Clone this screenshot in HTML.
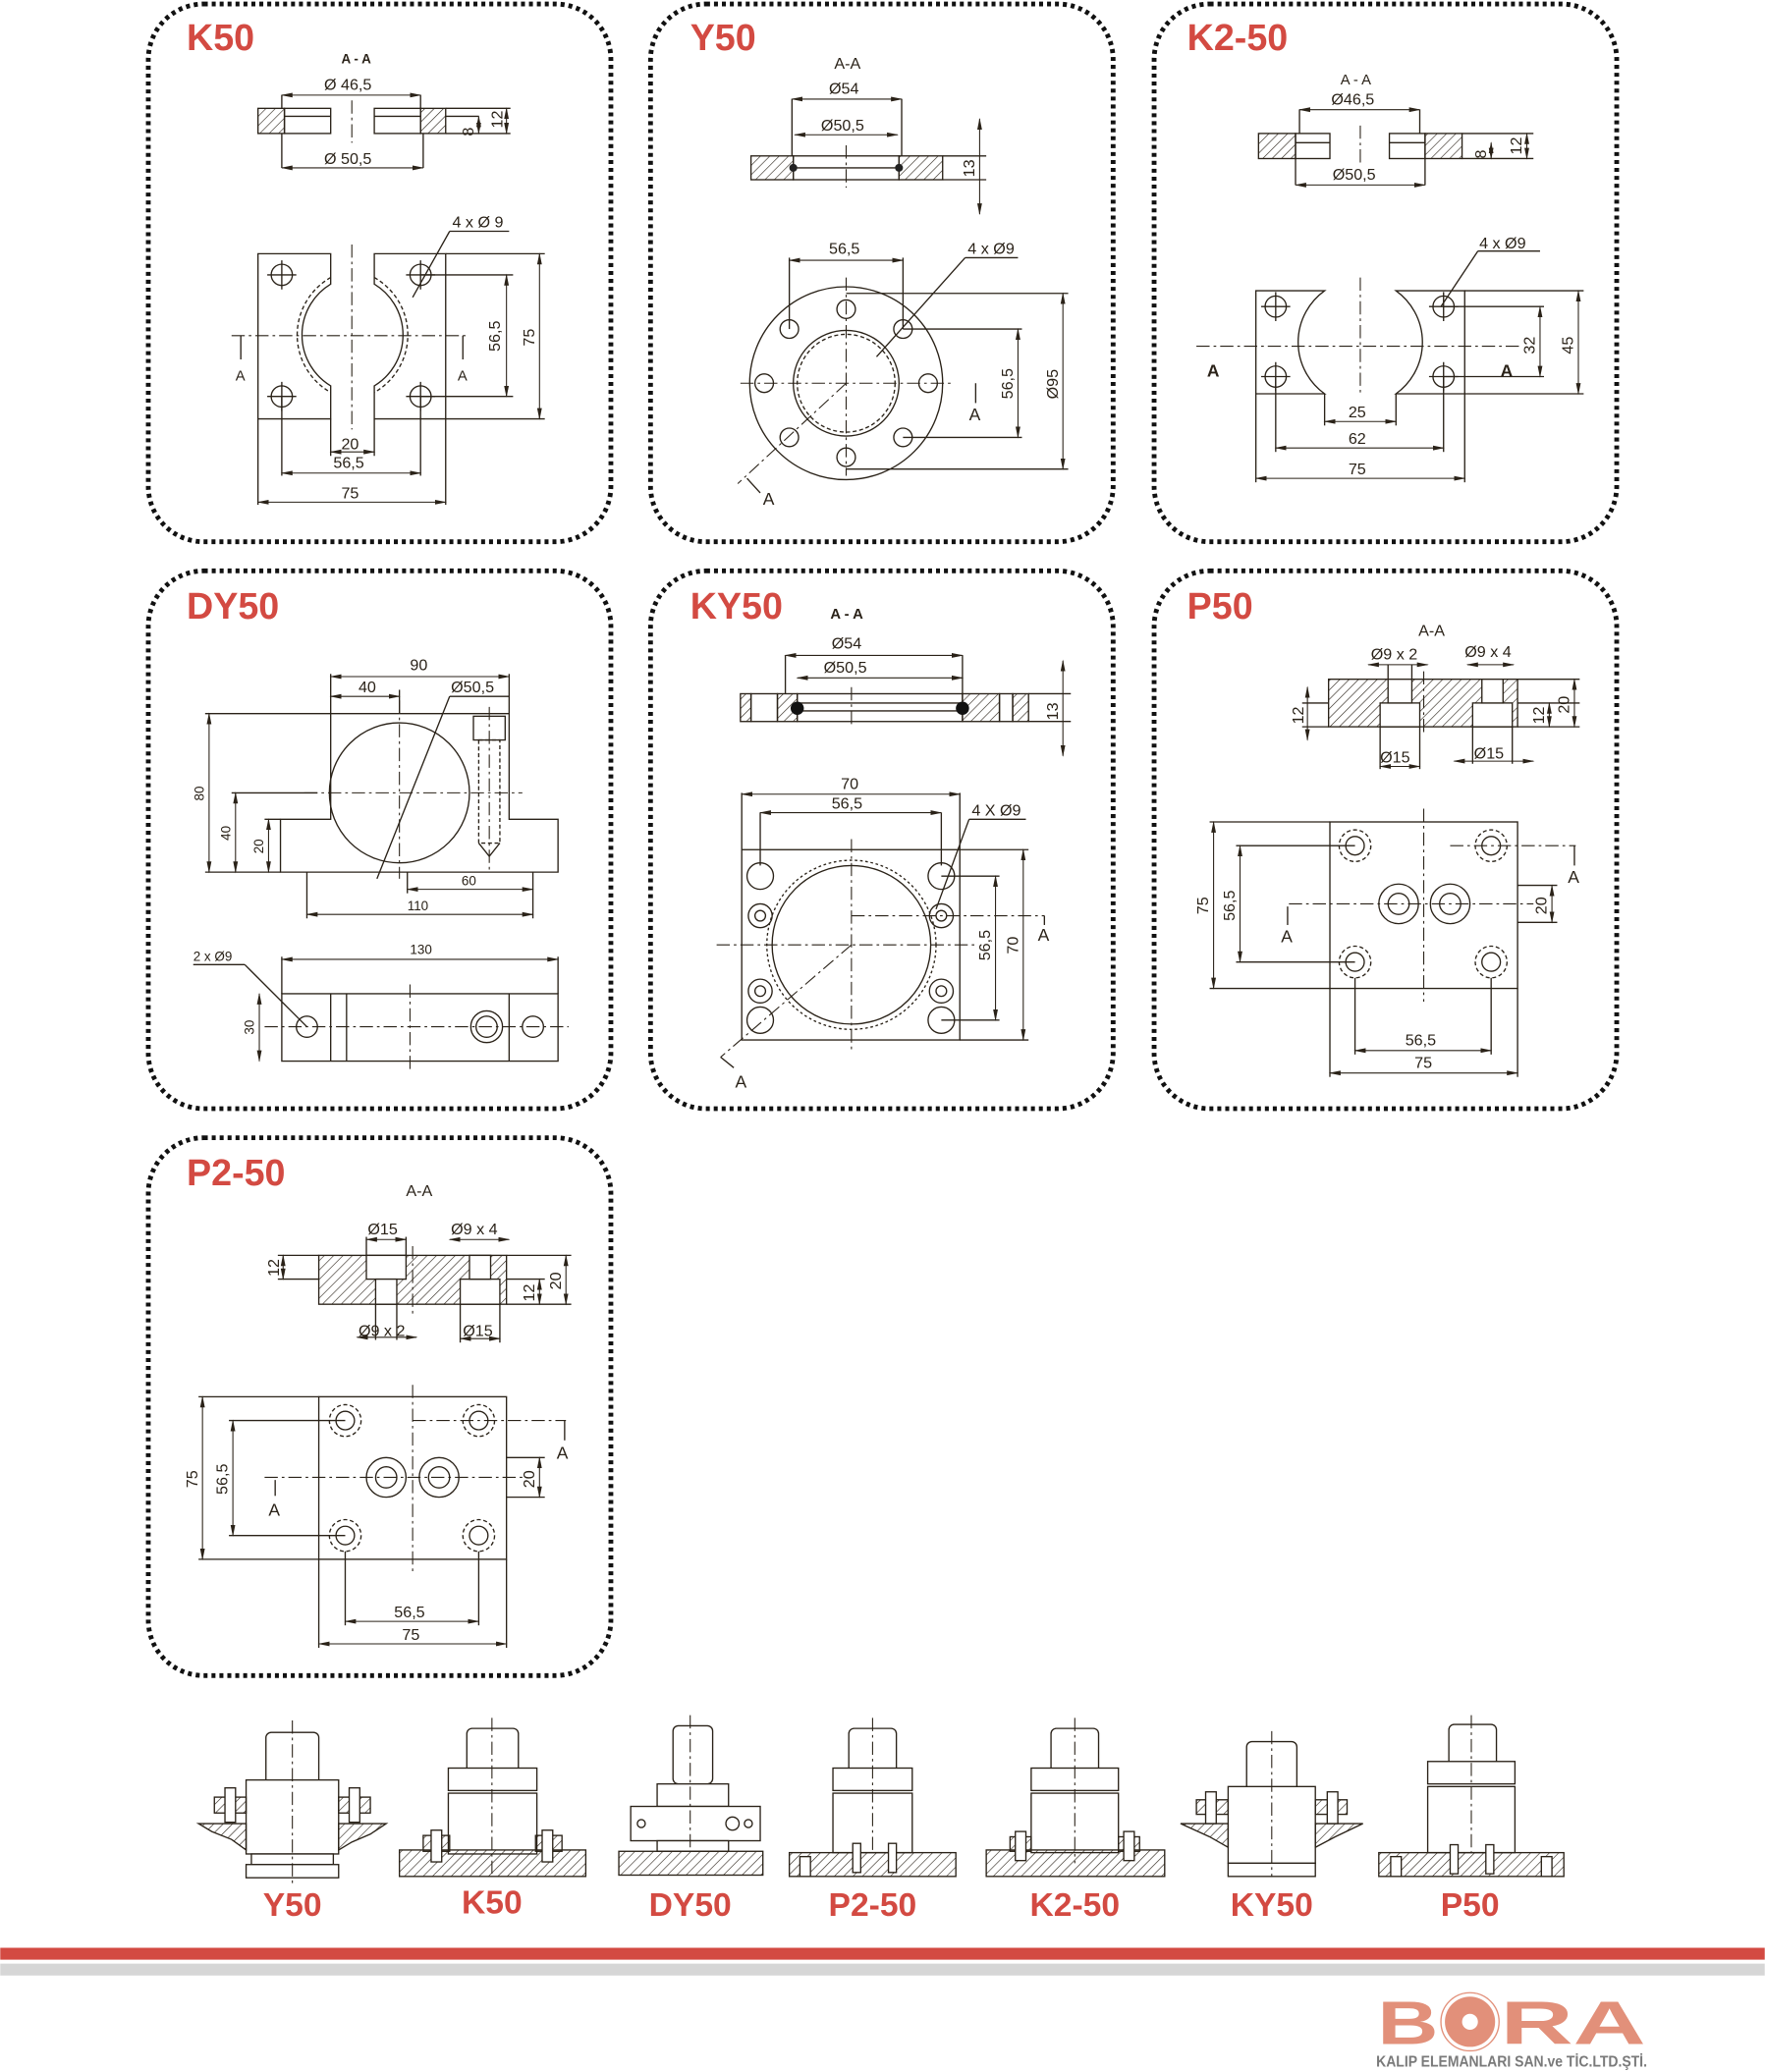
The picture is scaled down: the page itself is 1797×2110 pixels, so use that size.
<!DOCTYPE html>
<html><head><meta charset="utf-8"><style>
html,body{margin:0;padding:0;background:#fff}
svg{display:block}
text{font-family:"Liberation Sans",sans-serif;fill:#2a2218}
.t{fill:#d34a42;font-weight:bold;font-size:28px}
.lb{fill:#d34a42;font-weight:bold;font-size:25px}
.d{font-size:12px}
.l{stroke:#2a2218;stroke-width:1;fill:none}
.c{stroke:#2a2218;stroke-width:.8;fill:none;stroke-dasharray:10 3 2 3}
.h{stroke:#2a2218;stroke-width:1;fill:url(#hat)}
.p{fill:none;stroke:#111;stroke-width:3.6;stroke-dasharray:3 3}
.dm{stroke:#2a2218;stroke-width:.8;fill:none;marker-start:url(#a);marker-end:url(#a)}
.g{stroke:#2a2218;stroke-width:1;fill:#fff}
</style></head><body>
<svg width="1797" height="2110" viewBox="0 0 1335 1568" xmlns="http://www.w3.org/2000/svg">
<defs>
<pattern id="hat" width="5" height="5" patternUnits="userSpaceOnUse" patternTransform="rotate(45)"><line x1="0" y1="0" x2="0" y2="5" stroke="#2a2218" stroke-width="0.9"/></pattern>
<marker id="a" viewBox="0 0 10 10" refX="9" refY="5" markerWidth="9" markerHeight="9" markerUnits="userSpaceOnUse" orient="auto-start-reverse"><path d="M0,3 L10,5 L0,7z" fill="#2a2218"/></marker>
</defs>

<!-- panels -->
<rect class="p" x="112" y="3" width="350" height="407" rx="42"/>
<rect class="p" x="492" y="3" width="350" height="407" rx="42"/>
<rect class="p" x="873" y="3" width="350" height="407" rx="42"/>
<rect class="p" x="112" y="432" width="350" height="407" rx="42"/>
<rect class="p" x="492" y="432" width="350" height="407" rx="42"/>
<rect class="p" x="873" y="432" width="350" height="407" rx="42"/>
<rect class="p" x="112" y="861" width="350" height="407" rx="42"/>

<!-- K50 -->
<text class="t" x="141" y="38">K50</text>
<text x="258" y="48" style="font-size:10px;font-weight:bold">A - A</text>
<rect class="h" x="195" y="82" width="20" height="19"/><rect class="l" x="215" y="82" width="35" height="19"/><line class="l" x1="215" y1="88" x2="250" y2="88"/>
<rect class="h" x="318" y="82" width="19" height="19"/><rect class="l" x="283" y="82" width="35" height="19"/><line class="l" x1="283" y1="88" x2="318" y2="88"/>
<line class="c" x1="266" y1="76" x2="266" y2="108"/>
<line class="dm" x1="213" y1="72" x2="318" y2="72"/><line class="l" x1="213" y1="72" x2="213" y2="82"/><line class="l" x1="318" y1="72" x2="318" y2="82"/>
<text class="d" x="245" y="68">Ø 46,5</text>
<line class="dm" x1="213" y1="127" x2="320" y2="127"/><line class="l" x1="213" y1="101" x2="213" y2="127"/><line class="l" x1="320" y1="101" x2="320" y2="127"/>
<text class="d" x="245" y="124">Ø 50,5</text>
<line class="l" x1="337" y1="82" x2="386" y2="82"/><line class="l" x1="337" y1="101" x2="386" y2="101"/><line class="l" x1="337" y1="88" x2="362" y2="88"/>
<line class="dm" x1="362" y1="88" x2="362" y2="101"/><line class="dm" x1="383" y1="82" x2="383" y2="101"/>
<text class="d" transform="translate(358,103) rotate(-90)">8</text><text class="d" transform="translate(380,97) rotate(-90)">12</text>
<path class="l" d="M195,192 H250 V215 A45,45 0 0 0 250,292 V317 H195Z"/>
<path class="l" d="M337,192 H283 V215 A45,45 0 0 1 283,292 V317 H337Z"/>
<path class="l" stroke-dasharray="3 2" d="M250,210 A50,50 0 0 0 250,297 M283,210 A50,50 0 0 1 283,297"/>
<circle class="l" cx="213" cy="208" r="8"/><circle class="l" cx="318" cy="208" r="8"/><circle class="l" cx="213" cy="300" r="8"/><circle class="l" cx="318" cy="300" r="8"/>
<path class="l" stroke-width=".7" d="M202,208h22M213,197v22M307,208h22M318,197v22M202,300h22M213,289v22M307,300h22M318,289v22"/>
<line class="c" x1="175" y1="254" x2="355" y2="254"/><line class="c" x1="266" y1="185" x2="266" y2="325"/>
<line class="l" x1="182" y1="254" x2="182" y2="272"/><line class="l" x1="350" y1="254" x2="350" y2="272"/>
<text class="d" x="178" y="288" style="font-size:11px">A</text><text class="d" x="346" y="288" style="font-size:11px">A</text>
<line class="l" x1="318" y1="208" x2="388" y2="208"/><line class="l" x1="318" y1="300" x2="388" y2="300"/><line class="l" x1="337" y1="192" x2="412" y2="192"/><line class="l" x1="337" y1="317" x2="412" y2="317"/>
<line class="dm" x1="383" y1="208" x2="383" y2="300"/><line class="dm" x1="408" y1="192" x2="408" y2="317"/>
<text class="d" transform="translate(378,266) rotate(-90)">56,5</text><text class="d" transform="translate(404,262) rotate(-90)">75</text>
<line class="l" x1="340" y1="175" x2="385" y2="175"/><line class="l" x1="340" y1="175" x2="312" y2="225"/>
<text class="d" x="342" y="172">4 x Ø 9</text>
<line class="l" x1="250" y1="317" x2="250" y2="345"/><line class="l" x1="283" y1="317" x2="283" y2="345"/><line class="dm" x1="250" y1="342" x2="283" y2="342"/><text class="d" x="258" y="340">20</text>
<line class="l" x1="213" y1="300" x2="213" y2="360"/><line class="l" x1="318" y1="300" x2="318" y2="360"/><line class="dm" x1="213" y1="358" x2="318" y2="358"/><text class="d" x="252" y="354">56,5</text>
<line class="l" x1="195" y1="317" x2="195" y2="382"/><line class="l" x1="337" y1="317" x2="337" y2="382"/><line class="dm" x1="195" y1="380" x2="337" y2="380"/><text class="d" x="258" y="377">75</text>

<!-- Y50 -->
<text class="t" x="522" y="38">Y50</text>
<text class="d" x="631" y="52">A-A</text>
<rect class="h" x="568" y="118" width="32" height="18"/><rect class="h" x="680" y="118" width="33" height="18"/>
<rect class="l" x="600" y="118" width="80" height="18"/><line class="l" x1="600" y1="127" x2="680" y2="127"/>
<circle cx="600" cy="127" r="3" fill="#222"/><circle cx="680" cy="127" r="3" fill="#222"/>
<line class="c" x1="640" y1="110" x2="640" y2="142"/>
<line class="dm" x1="599" y1="75" x2="682" y2="75"/><line class="l" x1="599" y1="75" x2="599" y2="118"/><line class="l" x1="682" y1="75" x2="682" y2="118"/><text class="d" x="627" y="71">Ø54</text>
<line class="dm" x1="601" y1="102" x2="679" y2="102"/><text class="d" x="621" y="99">Ø50,5</text>
<line class="l" x1="713" y1="118" x2="746" y2="118"/><line class="l" x1="713" y1="136" x2="746" y2="136"/><line class="dm" x1="741" y1="90" x2="741" y2="162"/>
<text class="d" transform="translate(737,134) rotate(-90)">13</text>
<circle class="l" cx="640" cy="290" r="73"/><circle class="l" cx="640" cy="290" r="40"/><circle class="l" cx="640" cy="290" r="37" stroke-dasharray="3 2"/>
<g class="l"><circle cx="640" cy="234" r="7"/><circle cx="640" cy="346" r="7"/><circle cx="578" cy="290" r="7"/><circle cx="702" cy="290" r="7"/><circle cx="597" cy="249" r="7"/><circle cx="683" cy="249" r="7"/><circle cx="597" cy="331" r="7"/><circle cx="683" cy="331" r="7"/></g>
<line class="c" x1="560" y1="290" x2="720" y2="290"/><line class="c" x1="640" y1="210" x2="640" y2="360"/><line class="c" x1="640" y1="290" x2="558" y2="366"/>
<line class="l" x1="565" y1="362" x2="575" y2="373"/><text class="d" x="577" y="382" style="font-size:13px">A</text>
<line class="l" x1="738" y1="290" x2="738" y2="305"/><text class="d" x="733" y="318" style="font-size:13px">A</text>
<line class="l" x1="597" y1="195" x2="597" y2="249"/><line class="l" x1="683" y1="195" x2="683" y2="249"/><line class="dm" x1="597" y1="197" x2="683" y2="197"/><text class="d" x="627" y="192">56,5</text>
<line class="l" x1="730" y1="195" x2="770" y2="195"/><line class="l" x1="730" y1="195" x2="663" y2="270"/><text class="d" x="732" y="192">4 x Ø9</text>
<line class="l" x1="640" y1="222" x2="808" y2="222"/><line class="l" x1="683" y1="249" x2="773" y2="249"/><line class="l" x1="683" y1="331" x2="773" y2="331"/><line class="l" x1="640" y1="355" x2="808" y2="355"/>
<line class="dm" x1="770" y1="249" x2="770" y2="331"/><line class="dm" x1="804" y1="222" x2="804" y2="355"/>
<text class="d" transform="translate(766,302) rotate(-90)">56,5</text><text class="d" transform="translate(800,302) rotate(-90)">Ø95</text>

<!-- K2-50 -->
<text class="t" x="898" y="38">K2-50</text>
<text class="d" x="1014" y="64" style="font-size:11px">A - A</text>
<rect class="h" x="952" y="101" width="28" height="19"/><rect class="l" x="980" y="101" width="26" height="19"/><line class="l" x1="980" y1="108" x2="1006" y2="108"/>
<rect class="h" x="1078" y="101" width="28" height="19"/><rect class="l" x="1051" y="101" width="27" height="19"/><line class="l" x1="1051" y1="108" x2="1078" y2="108"/>
<line class="c" x1="1029" y1="95" x2="1029" y2="125"/>
<line class="dm" x1="983" y1="83" x2="1074" y2="83"/><line class="l" x1="983" y1="83" x2="983" y2="101"/><line class="l" x1="1074" y1="83" x2="1074" y2="101"/><text class="d" x="1007" y="79">Ø46,5</text>
<line class="dm" x1="980" y1="140" x2="1078" y2="140"/><line class="l" x1="980" y1="120" x2="980" y2="140"/><line class="l" x1="1078" y1="120" x2="1078" y2="140"/><text class="d" x="1008" y="136">Ø50,5</text>
<line class="l" x1="1106" y1="101" x2="1160" y2="101"/><line class="l" x1="1106" y1="120" x2="1160" y2="120"/>
<line class="dm" x1="1128" y1="108" x2="1128" y2="120"/><line class="dm" x1="1155" y1="101" x2="1155" y2="120"/>
<text class="d" transform="translate(1124,120) rotate(-90)">8</text><text class="d" transform="translate(1151,117) rotate(-90)">12</text>
<path class="l" d="M950,220 H1002 A48,48 0 0 0 1002,298 H950Z"/><path class="l" d="M1108,220 H1056 A48,48 0 0 1 1056,298 H1108Z"/>
<g class="l"><circle cx="965" cy="232" r="8"/><circle cx="1092" cy="232" r="8"/><circle cx="965" cy="285" r="8"/><circle cx="1092" cy="285" r="8"/></g>
<path class="l" stroke-width=".7" d="M954,232h22M965,221v22M1081,232h22M1092,221v22M954,285h22M965,274v22M1081,285h22M1092,274v22"/>
<line class="c" x1="1029" y1="210" x2="1029" y2="300"/><line class="c" x1="905" y1="262" x2="1150" y2="262"/>
<text x="913" y="285" style="font-size:13px;font-weight:bold">A</text><text x="1135" y="285" style="font-size:13px;font-weight:bold">A</text>
<line class="l" x1="1118" y1="190" x2="1165" y2="190"/><line class="l" x1="1118" y1="190" x2="1090" y2="232"/><text class="d" x="1119" y="188">4 x Ø9</text>
<line class="l" x1="1092" y1="232" x2="1168" y2="232"/><line class="l" x1="1092" y1="285" x2="1168" y2="285"/><line class="l" x1="1108" y1="220" x2="1198" y2="220"/><line class="l" x1="1108" y1="298" x2="1198" y2="298"/>
<line class="dm" x1="1165" y1="232" x2="1165" y2="285"/><line class="dm" x1="1194" y1="220" x2="1194" y2="298"/>
<text class="d" transform="translate(1161,268) rotate(-90)">32</text><text class="d" transform="translate(1190,268) rotate(-90)">45</text>
<line class="l" x1="1002" y1="298" x2="1002" y2="322"/><line class="l" x1="1056" y1="298" x2="1056" y2="322"/><line class="dm" x1="1002" y1="319" x2="1056" y2="319"/><text class="d" x="1020" y="316">25</text>
<line class="l" x1="965" y1="285" x2="965" y2="342"/><line class="l" x1="1092" y1="285" x2="1092" y2="342"/><line class="dm" x1="965" y1="339" x2="1092" y2="339"/><text class="d" x="1020" y="336">62</text>
<line class="l" x1="950" y1="298" x2="950" y2="365"/><line class="l" x1="1108" y1="298" x2="1108" y2="365"/><line class="dm" x1="950" y1="362" x2="1108" y2="362"/><text class="d" x="1020" y="359">75</text>

<!-- DY50 -->
<text class="t" x="141" y="468">DY50</text>
<path class="l" d="M250,540 H385 V620 H422 V660 H212 V620 H250Z"/>
<circle class="l" cx="302" cy="600" r="53"/>
<rect class="l" x="358" y="542" width="24" height="18"/><rect class="l" x="362" y="560" width="16" height="78" stroke-dasharray="3 2"/>
<path class="l" d="M362,638 L370,648 L378,638"/>
<line class="c" x1="230" y1="600" x2="395" y2="600"/><line class="c" x1="302" y1="530" x2="302" y2="665"/><line class="c" x1="370" y1="535" x2="370" y2="660"/>
<line class="l" x1="250" y1="510" x2="250" y2="540"/><line class="l" x1="385" y1="510" x2="385" y2="540"/><line class="dm" x1="250" y1="512" x2="385" y2="512"/><text class="d" x="310" y="507">90</text>
<line class="l" x1="302" y1="522" x2="302" y2="540"/><line class="dm" x1="250" y1="527" x2="302" y2="527"/><text class="d" x="271" y="524">40</text>
<line class="l" x1="285" y1="665" x2="340" y2="527"/><line class="l" x1="340" y1="527" x2="385" y2="527"/><text class="d" x="341" y="524">Ø50,5</text>
<line class="l" x1="155" y1="540" x2="250" y2="540"/><line class="l" x1="155" y1="660" x2="212" y2="660"/><line class="l" x1="175" y1="600" x2="240" y2="600"/><line class="l" x1="200" y1="620" x2="212" y2="620"/>
<line class="dm" x1="158" y1="540" x2="158" y2="660"/><line class="dm" x1="178" y1="600" x2="178" y2="660"/><line class="dm" x1="203" y1="620" x2="203" y2="660"/>
<text class="d" transform="translate(154,606) rotate(-90)" style="font-size:10px">80</text><text class="d" transform="translate(174,636) rotate(-90)" style="font-size:10px">40</text><text class="d" transform="translate(199,646) rotate(-90)" style="font-size:10px">20</text>
<line class="l" x1="308" y1="660" x2="308" y2="676"/><line class="l" x1="403" y1="660" x2="403" y2="695"/><line class="dm" x1="308" y1="673" x2="403" y2="673"/><text class="d" x="349" y="670" style="font-size:10px">60</text>
<line class="l" x1="232" y1="660" x2="232" y2="695"/><line class="dm" x1="232" y1="692" x2="403" y2="692"/><text class="d" x="308" y="689" style="font-size:10px">110</text>
<rect class="l" x="213" y="752" width="209" height="51"/>
<line class="l" x1="250" y1="752" x2="250" y2="803"/><line class="l" x1="262" y1="752" x2="262" y2="803"/><line class="l" x1="385" y1="752" x2="385" y2="803"/>
<circle class="l" cx="232" cy="777" r="8"/><circle class="l" cx="403" cy="777" r="8"/><circle class="l" cx="368" cy="777" r="12"/><circle class="l" cx="368" cy="777" r="8"/>
<line class="c" x1="200" y1="777" x2="430" y2="777"/><line class="c" x1="310" y1="745" x2="310" y2="810"/>
<line class="l" x1="213" y1="724" x2="213" y2="752"/><line class="l" x1="422" y1="724" x2="422" y2="752"/><line class="dm" x1="213" y1="726" x2="422" y2="726"/><text class="d" x="310" y="722" style="font-size:10px">130</text>
<line class="dm" x1="196" y1="752" x2="196" y2="803"/><text class="d" transform="translate(192,783) rotate(-90)" style="font-size:10px">30</text>
<line class="l" x1="146" y1="730" x2="185" y2="730"/><line class="l" x1="185" y1="730" x2="232" y2="777"/><text class="d" x="146" y="727" style="font-size:10px">2 x Ø9</text>

<!-- KY50 -->
<text class="t" x="522" y="468">KY50</text>
<text x="628" y="468" style="font-size:11px;font-weight:bold">A - A</text>
<rect class="h" x="560" y="525" width="8" height="21"/><rect class="l" x="568" y="525" width="20" height="21"/>
<rect class="h" x="588" y="525" width="15" height="21"/><rect class="l" x="603" y="525" width="125" height="21"/>
<rect class="h" x="728" y="525" width="28" height="21"/><rect class="l" x="756" y="525" width="10" height="21"/><rect class="h" x="766" y="525" width="12" height="21"/>
<line class="l" x1="603" y1="532" x2="728" y2="532"/><line class="l" x1="603" y1="538" x2="728" y2="538"/>
<circle cx="603" cy="536" r="5" fill="#111"/><circle cx="728" cy="536" r="5" fill="#111"/>
<line class="c" x1="644" y1="520" x2="644" y2="551"/>
<line class="dm" x1="594" y1="496" x2="728" y2="496"/>
<line class="l" x1="594" y1="496" x2="594" y2="525"/><line class="l" x1="728" y1="496" x2="728" y2="525"/>
<text class="d" x="629" y="491">Ø54</text>
<line class="dm" x1="603" y1="513" x2="728" y2="513"/><text class="d" x="623" y="509">Ø50,5</text>
<line class="l" x1="778" y1="525" x2="810" y2="525"/><line class="l" x1="778" y1="546" x2="810" y2="546"/><line class="dm" x1="804" y1="500" x2="804" y2="572"/>
<text class="d" transform="translate(800,545) rotate(-90)">13</text>
<rect class="l" x="561" y="643" width="165" height="144"/>
<circle class="l" cx="644" cy="715" r="60"/><circle class="l" cx="644" cy="715" r="64" stroke-dasharray="2 2"/>
<g class="l"><circle cx="575" cy="663" r="10"/><circle cx="712" cy="663" r="10"/><circle cx="575" cy="772" r="10"/><circle cx="712" cy="772" r="10"/>
<circle cx="575" cy="693" r="9"/><circle cx="575" cy="693" r="4"/><circle cx="712" cy="693" r="9"/><circle cx="712" cy="693" r="4"/>
<circle cx="575" cy="750" r="9"/><circle cx="575" cy="750" r="4"/><circle cx="712" cy="750" r="9"/><circle cx="712" cy="750" r="4"/></g>
<line class="c" x1="542" y1="715" x2="740" y2="715"/><line class="c" x1="644" y1="635" x2="644" y2="795"/><line class="c" x1="644" y1="693" x2="790" y2="693"/><line class="c" x1="644" y1="715" x2="545" y2="800"/>
<line class="l" x1="790" y1="693" x2="790" y2="700"/><text class="d" x="785" y="712" style="font-size:13px">A</text>
<line class="l" x1="545" y1="800" x2="555" y2="808"/><text class="d" x="556" y="823" style="font-size:13px">A</text>
<line class="l" x1="561" y1="600" x2="561" y2="643"/><line class="l" x1="726" y1="600" x2="726" y2="643"/><line class="dm" x1="561" y1="601" x2="726" y2="601"/><text class="d" x="636" y="597">70</text>
<line class="l" x1="575" y1="615" x2="575" y2="655"/><line class="l" x1="712" y1="615" x2="712" y2="655"/><line class="dm" x1="575" y1="615" x2="712" y2="615"/><text class="d" x="629" y="612">56,5</text>
<line class="l" x1="733" y1="620" x2="776" y2="620"/><line class="l" x1="733" y1="620" x2="708" y2="688"/><text class="d" x="735" y="617">4 X Ø9</text>
<line class="l" x1="712" y1="663" x2="756" y2="663"/><line class="l" x1="712" y1="772" x2="756" y2="772"/><line class="l" x1="726" y1="643" x2="778" y2="643"/><line class="l" x1="726" y1="787" x2="778" y2="787"/>
<line class="dm" x1="753" y1="663" x2="753" y2="772"/><line class="dm" x1="774" y1="643" x2="774" y2="787"/>
<text class="d" transform="translate(749,727) rotate(-90)">56,5</text><text class="d" transform="translate(770,722) rotate(-90)">70</text>

<!-- P50 -->
<text class="t" x="898" y="468">P50</text>
<text class="d" x="1073" y="481">A-A</text>
<rect class="h" x="1005" y="514" width="143" height="36"/>
<rect class="g" x="1044" y="532" width="30" height="18"/><rect class="g" x="1050" y="514" width="18" height="18"/>
<rect class="g" x="1114" y="532" width="30" height="18"/><rect class="g" x="1121" y="514" width="16" height="18"/>
<line class="c" x1="1077" y1="508" x2="1077" y2="556"/>
<line class="l" x1="1050" y1="503" x2="1050" y2="514"/><line class="l" x1="1068" y1="503" x2="1068" y2="514"/><line class="dm" x1="1035" y1="503" x2="1080" y2="503"/><text class="d" x="1037" y="499">Ø9 x 2</text>
<line class="dm" x1="1110" y1="503" x2="1145" y2="503"/><text class="d" x="1108" y="497">Ø9 x 4</text>
<line class="l" x1="1044" y1="550" x2="1044" y2="582"/><line class="l" x1="1074" y1="550" x2="1074" y2="582"/><line class="dm" x1="1044" y1="580" x2="1074" y2="580"/><text class="d" x="1044" y="577">Ø15</text>
<line class="l" x1="1114" y1="550" x2="1114" y2="578"/><line class="l" x1="1144" y1="550" x2="1144" y2="578"/><line class="dm" x1="1100" y1="576" x2="1160" y2="576"/><text class="d" x="1115" y="574">Ø15</text>
<line class="l" x1="985" y1="532" x2="1005" y2="532"/><line class="l" x1="985" y1="550" x2="1005" y2="550"/><line class="dm" x1="989" y1="520" x2="989" y2="560"/><text class="d" transform="translate(986,548) rotate(-90)">12</text>
<line class="l" x1="1148" y1="532" x2="1195" y2="532"/><line class="l" x1="1148" y1="550" x2="1195" y2="550"/><line class="l" x1="1148" y1="514" x2="1195" y2="514"/>
<line class="dm" x1="1172" y1="532" x2="1172" y2="550"/><line class="dm" x1="1191" y1="514" x2="1191" y2="550"/>
<text class="d" transform="translate(1168,548) rotate(-90)">12</text><text class="d" transform="translate(1187,540) rotate(-90)">20</text>
<rect class="l" x="1006" y="622" width="142" height="126"/>
<g class="l"><circle cx="1025" cy="640" r="12" stroke-dasharray="3 2"/><circle cx="1025" cy="640" r="7"/><circle cx="1128" cy="640" r="12" stroke-dasharray="3 2"/><circle cx="1128" cy="640" r="7"/>
<circle cx="1025" cy="728" r="12" stroke-dasharray="3 2"/><circle cx="1025" cy="728" r="7"/><circle cx="1128" cy="728" r="12" stroke-dasharray="3 2"/><circle cx="1128" cy="728" r="7"/>
<circle cx="1058" cy="684" r="15"/><circle cx="1058" cy="684" r="8"/><circle cx="1097" cy="684" r="15"/><circle cx="1097" cy="684" r="8"/></g>
<line class="c" x1="1077" y1="612" x2="1077" y2="758"/><line class="c" x1="975" y1="684" x2="1160" y2="684"/><line class="c" x1="1097" y1="640" x2="1192" y2="640"/>
<line class="l" x1="1191" y1="640" x2="1191" y2="655"/><text class="d" x="1186" y="668" style="font-size:13px">A</text>
<line class="l" x1="974" y1="686" x2="974" y2="700"/><text class="d" x="969" y="713" style="font-size:13px">A</text>
<line class="l" x1="915" y1="622" x2="1006" y2="622"/><line class="l" x1="915" y1="748" x2="1006" y2="748"/><line class="l" x1="935" y1="640" x2="1025" y2="640"/><line class="l" x1="935" y1="728" x2="1025" y2="728"/>
<line class="dm" x1="918" y1="622" x2="918" y2="748"/><line class="dm" x1="938" y1="640" x2="938" y2="728"/>
<text class="d" transform="translate(914,692) rotate(-90)">75</text><text class="d" transform="translate(934,697) rotate(-90)">56,5</text>
<line class="l" x1="1148" y1="670" x2="1178" y2="670"/><line class="l" x1="1148" y1="698" x2="1178" y2="698"/><line class="dm" x1="1174" y1="670" x2="1174" y2="698"/><text class="d" transform="translate(1170,692) rotate(-90)">20</text>
<line class="l" x1="1025" y1="740" x2="1025" y2="798"/><line class="l" x1="1128" y1="740" x2="1128" y2="798"/><line class="dm" x1="1025" y1="795" x2="1128" y2="795"/><text class="d" x="1063" y="791">56,5</text>
<line class="l" x1="1006" y1="748" x2="1006" y2="815"/><line class="l" x1="1148" y1="748" x2="1148" y2="815"/><line class="dm" x1="1006" y1="812" x2="1148" y2="812"/><text class="d" x="1070" y="808">75</text>

<!-- P2-50 -->
<text class="t" x="141" y="897">P2-50</text>
<text class="d" x="307" y="905">A-A</text>
<rect class="h" x="241" y="950" width="142" height="37"/>
<rect class="g" x="277" y="950" width="30" height="18"/><rect class="g" x="284" y="968" width="16" height="19"/>
<rect class="g" x="348" y="968" width="30" height="19"/><rect class="g" x="355" y="950" width="16" height="18"/>
<line class="c" x1="312" y1="943" x2="312" y2="994"/>
<line class="l" x1="277" y1="936" x2="277" y2="950"/><line class="l" x1="307" y1="936" x2="307" y2="950"/><line class="dm" x1="277" y1="938" x2="307" y2="938"/><text class="d" x="278" y="934">Ø15</text>
<line class="dm" x1="340" y1="938" x2="385" y2="938"/><text class="d" x="341" y="934">Ø9 x 4</text>
<line class="l" x1="284" y1="987" x2="284" y2="1014"/><line class="l" x1="300" y1="987" x2="300" y2="1014"/><line class="dm" x1="270" y1="1012" x2="315" y2="1012"/><text class="d" x="271" y="1011">Ø9 x 2</text>
<line class="l" x1="348" y1="987" x2="348" y2="1016"/><line class="l" x1="378" y1="987" x2="378" y2="1016"/><line class="dm" x1="348" y1="1013" x2="378" y2="1013"/><text class="d" x="350" y="1011">Ø15</text>
<line class="l" x1="210" y1="950" x2="241" y2="950"/><line class="l" x1="210" y1="968" x2="241" y2="968"/><line class="dm" x1="214" y1="950" x2="214" y2="968"/><text class="d" transform="translate(211,966) rotate(-90)">12</text>
<line class="l" x1="383" y1="950" x2="432" y2="950"/><line class="l" x1="383" y1="968" x2="412" y2="968"/><line class="l" x1="383" y1="987" x2="432" y2="987"/>
<line class="dm" x1="408" y1="968" x2="408" y2="987"/><line class="dm" x1="428" y1="950" x2="428" y2="987"/>
<text class="d" transform="translate(404,985) rotate(-90)">12</text><text class="d" transform="translate(424,976) rotate(-90)">20</text>
<rect class="l" x="241" y="1057" width="142" height="123"/>
<g class="l"><circle cx="261" cy="1075" r="12" stroke-dasharray="3 2"/><circle cx="261" cy="1075" r="7"/><circle cx="362" cy="1075" r="12" stroke-dasharray="3 2"/><circle cx="362" cy="1075" r="7"/>
<circle cx="261" cy="1162" r="12" stroke-dasharray="3 2"/><circle cx="261" cy="1162" r="7"/><circle cx="362" cy="1162" r="12" stroke-dasharray="3 2"/><circle cx="362" cy="1162" r="7"/>
<circle cx="292" cy="1118" r="15"/><circle cx="292" cy="1118" r="8"/><circle cx="332" cy="1118" r="15"/><circle cx="332" cy="1118" r="8"/></g>
<line class="c" x1="312" y1="1048" x2="312" y2="1190"/><line class="c" x1="200" y1="1118" x2="395" y2="1118"/><line class="c" x1="312" y1="1075" x2="428" y2="1075"/>
<line class="l" x1="427" y1="1075" x2="427" y2="1090"/><text class="d" x="421" y="1104" style="font-size:13px">A</text>
<line class="l" x1="208" y1="1120" x2="208" y2="1132"/><text class="d" x="203" y="1147" style="font-size:13px">A</text>
<line class="l" x1="150" y1="1057" x2="241" y2="1057"/><line class="l" x1="150" y1="1180" x2="241" y2="1180"/><line class="l" x1="173" y1="1075" x2="261" y2="1075"/><line class="l" x1="173" y1="1162" x2="261" y2="1162"/>
<line class="dm" x1="153" y1="1057" x2="153" y2="1180"/><line class="dm" x1="176" y1="1075" x2="176" y2="1162"/>
<text class="d" transform="translate(149,1126) rotate(-90)">75</text><text class="d" transform="translate(172,1131) rotate(-90)">56,5</text>
<line class="l" x1="383" y1="1103" x2="412" y2="1103"/><line class="l" x1="383" y1="1133" x2="412" y2="1133"/><line class="dm" x1="408" y1="1103" x2="408" y2="1133"/><text class="d" transform="translate(404,1126) rotate(-90)">20</text>
<line class="l" x1="261" y1="1174" x2="261" y2="1230"/><line class="l" x1="362" y1="1174" x2="362" y2="1230"/><line class="dm" x1="261" y1="1227" x2="362" y2="1227"/><text class="d" x="298" y="1224">56,5</text>
<line class="l" x1="241" y1="1180" x2="241" y2="1247"/><line class="l" x1="383" y1="1180" x2="383" y2="1247"/><line class="dm" x1="241" y1="1244" x2="383" y2="1244"/><text class="d" x="304" y="1241">75</text>

<!-- product icons -->
<g>
<rect class="g" x="201" y="1311" width="40" height="44" rx="4"/>
<rect class="g" x="186" y="1347" width="70" height="56"/><rect class="g" x="190" y="1403" width="62" height="8"/><rect class="g" x="186" y="1411" width="70" height="10"/>
<path class="h" d="M150,1380 L186,1380 L186,1400 L175,1392 L160,1386Z"/><path class="h" d="M256,1380 L292,1380 L280,1388 L266,1394 L256,1400Z"/>
<rect class="h" x="162" y="1360" width="24" height="12"/><rect class="h" x="256" y="1360" width="24" height="12"/>
<rect class="g" x="170" y="1353" width="8" height="26"/><rect class="g" x="264" y="1353" width="8" height="26"/>
<line class="c" x1="221" y1="1302" x2="221" y2="1425"/>
</g>
<g>
<rect class="g" x="353" y="1308" width="39" height="40" rx="4"/>
<rect class="g" x="339" y="1338" width="67" height="17"/><rect class="g" x="339" y="1357" width="67" height="46"/>
<rect class="h" x="302" y="1400" width="141" height="20"/>
<rect class="h" x="320" y="1389" width="20" height="12"/><rect class="h" x="405" y="1389" width="20" height="12"/>
<rect class="g" x="326" y="1385" width="8" height="24"/><rect class="g" x="410" y="1385" width="8" height="24"/>
<line class="c" x1="372" y1="1300" x2="372" y2="1420"/>
</g>
<g>
<rect class="g" x="509" y="1306" width="30" height="44" rx="4"/>
<rect class="g" x="497" y="1350" width="54" height="17"/>
<rect class="g" x="477" y="1367" width="98" height="26"/><rect class="g" x="497" y="1393" width="54" height="8"/>
<circle class="l" cx="485" cy="1380" r="3"/><circle class="l" cx="566" cy="1380" r="3"/><circle class="l" cx="554" cy="1380" r="5"/>
<rect class="h" x="468" y="1401" width="109" height="18"/>
<line class="c" x1="522" y1="1298" x2="522" y2="1400"/>
</g>
<g>
<rect class="g" x="642" y="1308" width="36" height="36" rx="4"/>
<rect class="g" x="630" y="1338" width="60" height="17"/><rect class="g" x="630" y="1357" width="60" height="45"/>
<rect class="h" x="597" y="1402" width="126" height="18"/>
<rect class="g" x="605" y="1405" width="8" height="15"/><rect class="g" x="645" y="1395" width="6" height="22"/><rect class="g" x="672" y="1395" width="6" height="22"/>
<line class="c" x1="660" y1="1300" x2="660" y2="1402"/>
</g>
<g>
<rect class="g" x="795" y="1308" width="36" height="36" rx="4"/>
<rect class="g" x="780" y="1338" width="66" height="17"/><rect class="g" x="780" y="1357" width="66" height="45"/>
<rect class="h" x="746" y="1400" width="135" height="20"/>
<rect class="h" x="764" y="1390" width="16" height="11"/><rect class="h" x="846" y="1390" width="16" height="11"/>
<rect class="g" x="768" y="1386" width="8" height="22"/><rect class="g" x="850" y="1386" width="8" height="22"/>
<line class="c" x1="813" y1="1300" x2="813" y2="1410"/>
</g>
<g>
<rect class="g" x="943" y="1318" width="38" height="40" rx="4"/>
<rect class="g" x="929" y="1352" width="66" height="58"/><rect class="g" x="929" y="1410" width="66" height="10"/>
<path class="h" d="M893,1380 L929,1380 L929,1398 L915,1390Z"/><path class="h" d="M995,1380 L1031,1380 L1010,1390 L995,1398Z"/>
<rect class="h" x="905" y="1362" width="24" height="11"/><rect class="h" x="995" y="1362" width="24" height="11"/>
<rect class="g" x="912" y="1356" width="8" height="24"/><rect class="g" x="1004" y="1356" width="8" height="24"/>
<line class="c" x1="962" y1="1310" x2="962" y2="1420"/>
</g>
<g>
<rect class="g" x="1096" y="1305" width="36" height="32" rx="4"/>
<rect class="g" x="1080" y="1333" width="66" height="17"/><rect class="g" x="1080" y="1352" width="66" height="50"/>
<rect class="h" x="1043" y="1402" width="140" height="18"/>
<rect class="g" x="1052" y="1405" width="8" height="15"/><rect class="g" x="1097" y="1396" width="6" height="22"/><rect class="g" x="1124" y="1396" width="6" height="22"/><rect class="g" x="1166" y="1405" width="8" height="15"/>
<line class="c" x1="1113" y1="1298" x2="1113" y2="1402"/>
</g>

<text class="lb" x="221" y="1450" text-anchor="middle">Y50</text>
<text class="lb" x="372" y="1448" text-anchor="middle">K50</text>
<text class="lb" x="522" y="1450" text-anchor="middle">DY50</text>
<text class="lb" x="660" y="1450" text-anchor="middle">P2-50</text>
<text class="lb" x="813" y="1450" text-anchor="middle">K2-50</text>
<text class="lb" x="962" y="1450" text-anchor="middle">KY50</text>
<text class="lb" x="1112" y="1450" text-anchor="middle">P50</text>

<!-- footer -->
<rect x="0" y="1474" width="1335" height="9" fill="#d34a42"/>
<rect x="0" y="1486" width="1335" height="9" fill="#d6d6d6"/>
<text x="1042" y="1547" style="font-size:46px;font-weight:bold;fill:#e2907a" textLength="46" lengthAdjust="spacingAndGlyphs">B</text>
<circle cx="1112" cy="1530" r="22" fill="none" stroke="#e2907a" stroke-width="1"/>
<circle cx="1112" cy="1530" r="19" fill="#e2907a"/>
<circle cx="1112" cy="1530" r="6" fill="#fff"/>
<text x="1135" y="1547" style="font-size:46px;font-weight:bold;fill:#e2907a" textLength="110" lengthAdjust="spacingAndGlyphs">RA</text>
<text x="1041" y="1564" style="font-size:12px;font-weight:bold;fill:#7a7a7a" textLength="205" lengthAdjust="spacingAndGlyphs">KALIP ELEMANLARI SAN.ve TİC.LTD.ŞTİ.</text>
</svg>
</body></html>
